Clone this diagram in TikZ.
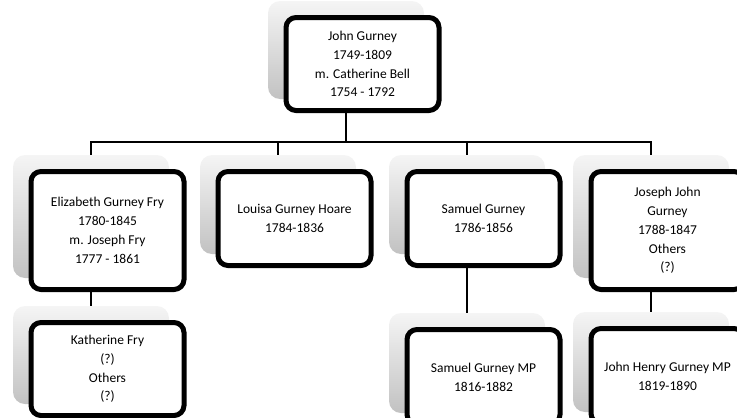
\documentclass[tikz,border=0pt]{standalone}
\usepackage{fontspec}
\setmainfont{Carlito}

\newcommand{\persfont}{\fontsize{13.5}{18.8}\selectfont}

\tikzset{
	shade box/.style={rounded corners=12pt, top color=black!4, bottom color=black!24,
		minimum width=156pt, inner sep=0pt},
	person/.style={draw, line width=5pt, rounded corners=10pt, fill=white,
		minimum width=153pt, align=center, font=\persfont, inner sep=2pt},
	link/.style={black, line width=1.4pt}
}

\begin{document}
\begin{tikzpicture}[x=1pt,y=-1pt]

%fix picture size
\useasboundingbox (0,0) rectangle (737,418);
\clip (0,0) rectangle (737,418);

%draw shadows
\node[shade box, minimum height=98pt]  (johnS)   at (346,50) {};
\node[shade box, minimum height=123pt] (elizS)   at (91,216.5) {};
\node[shade box, minimum height=99pt]  (louisaS) at (278,204.5) {};
\node[shade box, minimum height=99pt]  (samuelS) at (467,204.5) {};
\node[shade box, minimum height=123pt] (josephS) at (651,216.5) {};
\node[shade box, minimum height=98pt]  (kathS)   at (91,355) {};
\node[shade box, minimum height=100pt] (samMPS)  at (467,363) {};
\node[shade box, minimum height=100pt] (jhenryS) at (651,362) {};

%draw boxes
\node[person, minimum height=93pt]  (john)   at ([shift={(16.5,14)}]johnS)   {John Gurney\\1749-1809\\m. Catherine Bell\\1754 - 1792};
\node[person, minimum height=118pt] (eliz)   at ([shift={(16.5,14)}]elizS)   {Elizabeth Gurney Fry\\1780-1845\\m. Joseph Fry\\1777 - 1861};
\node[person, minimum height=94pt]  (louisa) at ([shift={(16.5,14)}]louisaS) {Louisa Gurney Hoare\\1784-1836};
\node[person, minimum height=94pt]  (samuel) at ([shift={(16.5,14)}]samuelS) {Samuel Gurney\\1786-1856};
\node[person, minimum height=118pt] (joseph) at ([shift={(16.5,14)}]josephS) {Joseph John\\Gurney\\1788-1847\\Others\\(?)};
\node[person, minimum height=93pt]  (kath)   at ([shift={(16.5,14)}]kathS)   {Katherine Fry\\(?)\\Others\\(?)};
\node[person, minimum height=95pt]  (samMP)  at ([shift={(16.5,14)}]samMPS)  {Samuel Gurney MP\\1816-1882};
\node[person, minimum height=95pt]  (jhenry) at ([shift={(16.5,14)}]jhenryS) {John Henry Gurney MP\\1819-1890};

%draw links to children
\draw[link] (john.south -| johnS) -- ++(0,29) coordinate (fork);
\draw[link] (elizS.north) |- (fork) -| (josephS.north);
\foreach \n in {louisaS,samuelS}
	{
	\draw[link] (\n.north) -- (\n.north |- fork);
	}

%draw links to grandchildren
\draw[link] (eliz.south -| elizS) -- (kathS.north);
\draw[link] (samuel.south -| samuelS) -- (samMPS.north);
\draw[link] (joseph.south -| josephS) -- (jhenryS.north);

\end{tikzpicture}
\end{document}
